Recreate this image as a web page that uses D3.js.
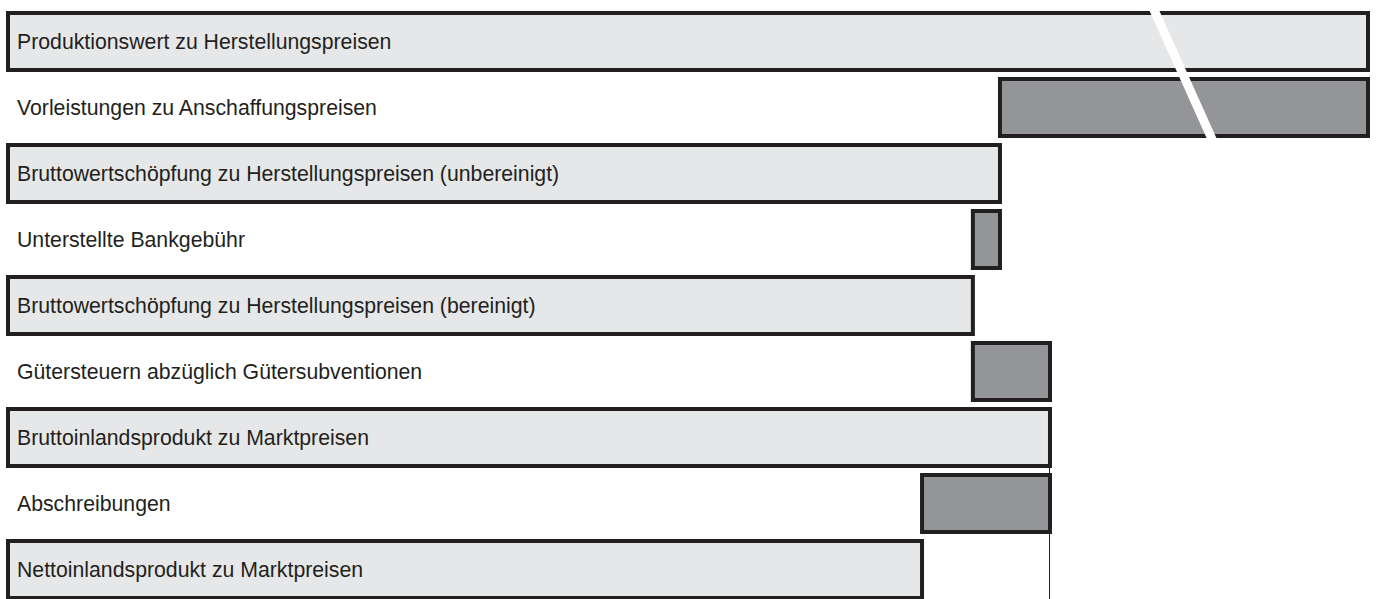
<!DOCTYPE html>
<html>
<head>
<meta charset="utf-8">
<script src="https://cdn.jsdelivr.net/npm/d3@7"></script>
<style>
  body { margin: 0; background: #fff; }
  svg text { font-family: "Liberation Sans", Arial, sans-serif; }
</style>
</head>
<body>
<svg id="chart" width="1378" height="599"></svg>
<script>
// categories (top to bottom)
var categories = [
  "Produktionswert zu Herstellungspreisen",
  "Vorleistungen zu Anschaffungspreisen",
  "Bruttowertschöpfung zu Herstellungspreisen (unbereinigt)",
  "Unterstellte Bankgebühr",
  "Bruttowertschöpfung zu Herstellungspreisen (bereinigt)",
  "Gütersteuern abzüglich Gütersubventionen",
  "Bruttoinlandsprodukt zu Marktpreisen",
  "Abschreibungen",
  "Nettoinlandsprodukt zu Marktpreisen"
];
// values (Mrd. EUR, estimated); deltas are signed
var values = [4800, -2420, 2380, -65, 2315, 185, 2500, -307, 2193];
var kinds = ["total", "delta", "total", "delta", "total", "delta", "total", "delta", "total"];

var width = 1378, height = 599;
var xMax = 3263; // axis is cut (break) beyond this

var svg = d3.select("#chart");

var x = d3.scaleLinear()
    .domain([0, xMax])
    .range([8, 1368])
    .clamp(true);

var y = d3.scaleBand()
    .domain(categories)
    .range([13, 598])
    .paddingInner(9/66)
    .paddingOuter(0);

// waterfall spans
var rows = [];
var running = 0;
categories.forEach(function(c, i) {
  var v = values[i], x0, x1;
  if (kinds[i] == "total") {
    x0 = 0; x1 = v; running = v;
  } else {
    if (v < 0) { x0 = running + v; x1 = running; }
    else { x0 = running; x1 = running + v; }
  }
  rows.push({label: c, kind: kinds[i], x0: x0, x1: x1});
});

// reference line at BIP level
var bip = values[6];
svg.append("line")
  .attr("x1", Math.round(x(bip)) - 0.5).attr("x2", Math.round(x(bip)) - 0.5)
  .attr("y1", y(categories[6]) + y.bandwidth())
  .attr("y2", height)
  .attr("stroke", "#231f20")
  .attr("stroke-width", 1);

svg.append("g").selectAll("rect")
  .data(rows)
  .enter()
  .append("rect")
  .attr("x", function(d) { return x(d.x0); })
  .attr("width", function(d) { return x(d.x1) - x(d.x0); })
  .attr("y", function(d) { return y(d.label); })
  .attr("height", y.bandwidth())
  .attr("fill", function(d) { return d.kind == "total" ? "#e6e7e8" : "#939598"; })
  .attr("stroke", "#231f20")
  .attr("stroke-width", 4);

svg.append("g").selectAll("text")
  .data(rows)
  .enter()
  .append("text")
  .attr("x", 17)
  .attr("y", function(d) { return y(d.label) + y.bandwidth() / 2 + 7.5; })
  .attr("font-size", 21.25)
  .attr("fill", "#231f20")
  .text(function(d) { return d.label; });

// axis break marker
svg.append("line")
  .attr("x1", 1149.6).attr("y1", 0)
  .attr("x2", 1212.4).attr("y2", 140)
  .attr("stroke", "#fff")
  .attr("stroke-width", 9);
</script>
</body>
</html>
